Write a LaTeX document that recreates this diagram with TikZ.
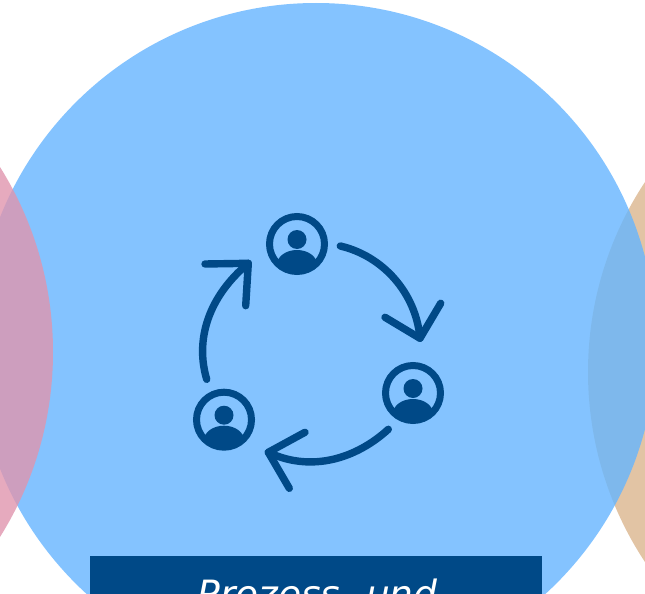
\documentclass[tikz,border=0pt]{standalone}
\usepackage{fontspec}
\setmainfont{DejaVu Sans}
\definecolor{navy}{HTML}{004987}
\definecolor{skyb}{HTML}{66B5FF}
\definecolor{rosec}{HTML}{E095AE}
\definecolor{tanc}{HTML}{C68A4A}
\tikzset{
  disc/.style={fill opacity=0.5,draw=none},
  ringline/.style={draw=navy,line width=7pt},
  cyc/.style={draw=navy,line width=7.4pt,line cap=round,line join=round},
  person/.pic={
    \draw[ringline] (0,0) circle (27.5);
    \fill[navy] (0,-4.5) circle (9.5);
    \begin{scope}
      \clip (0,0) circle (27.5);
      \fill[navy] (0,20.5) ellipse (20 and 14.5);
    \end{scope}
  }
}
\begin{document}
\begin{tikzpicture}[x=1pt,y=-1pt]
\useasboundingbox (0,0) rectangle (645,594);
\fill[white] (0,0) rectangle (645,594);
\begin{scope}
\clip (0,0) rectangle (645,594);
\fill[tanc,disc] (933,372) circle (345);
\fill[skyb,fill opacity=0.8] (316,343) circle (340);
\fill[rosec,fill opacity=0.8] (-296,352) circle (349);
\node[fill=navy,draw=none,inner sep=0,minimum width=452pt,minimum height=80pt,anchor=north west] (band) at (90,556) {};
\node[text=white,anchor=base,font=\fontsize{37.6}{44}\selectfont\itshape,inner sep=0] (title) at (317.5,607) {Prozess- und};
\end{scope}
\pic at (297,244) {person};
\pic at (413,393) {person};
\pic at (224,419.7) {person};
\coordinate (a1) at (340.3,246);
\coordinate (b1) at (420,338.3);
\coordinate (a2) at (388.3,429.3);
\coordinate (b2) at (268.3,452.3);
\coordinate (a3) at (206.7,379.3);
\coordinate (b3) at (248.3,263.3);
\draw[cyc] (a1) .. controls (383,256) and (416,293) .. (b1);
\draw[cyc] (385,317.3) -- (b1) -- (440.7,303.3);
\draw[cyc] (a2) .. controls (357,458) and (312,473) .. (b2);
\draw[cyc] (305,432.3) -- (b2) -- (289.3,488.3);
\draw[cyc] (a3) .. controls (195,340) and (208,297) .. (b3);
\draw[cyc] (205,264) -- (b3) -- (245.7,305.7);
\end{tikzpicture}
\end{document}
